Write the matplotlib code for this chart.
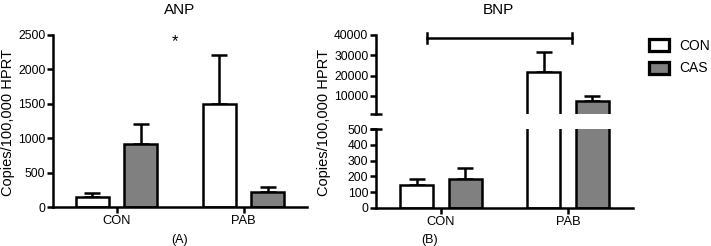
import matplotlib
matplotlib.use("Agg")
import matplotlib.pyplot as plt
from matplotlib.patches import Patch
import numpy as np

plt.rcParams["font.family"] = ["Liberation Sans", "DejaVu Sans"]

# ---- data ----
groups = ["CON", "PAB"]
series = ["CON", "CAS"]
anp_mean = {"CON": [150, 1500], "CAS": [920, 218]}
anp_err = {"CON": [58, 715], "CAS": [290, 68]}
bnp_mean = {"CON": [147, 21900], "CAS": [184, 7600]}
bnp_err = {"CON": [39, 9600], "CAS": [70, 2500]}

colors = {"CON": "white", "CAS": "#808080"}
offset = {"CON": -0.19, "CAS": 0.19}
WIDTH = 0.26
LW = 1.8

fig = plt.figure(figsize=(7.11, 2.46), dpi=100)
W, H = 711, 246


def ax_px(l, t, r, b):
    return fig.add_axes([l / W, 1 - b / H, (r - l) / W, (b - t) / H])


def style(ax, bottom=True):
    for s in ["top", "right"]:
        ax.spines[s].set_visible(False)
    ax.spines["left"].set_linewidth(LW)
    ax.spines["bottom"].set_linewidth(LW)
    if not bottom:
        ax.spines["bottom"].set_visible(False)
        ax.tick_params(axis="x", length=0, labelbottom=False)
    ax.tick_params(axis="both", width=LW, length=4, pad=1.5)
    ax.tick_params(axis="y", labelsize=8.7)
    ax.tick_params(axis="x", labelsize=9.3)


def draw_bars(ax, mean, err, ymin=0):
    x = np.arange(len(groups))
    for s in series:
        m = np.array(mean[s], dtype=float)
        e = np.array(err[s], dtype=float)
        keep = m > ymin  # bars fully below a broken segment are not drawn there
        ax.bar(x[keep] + offset[s], m[keep], WIDTH, color=colors[s],
               edgecolor="black", linewidth=LW, zorder=2)
        ax.errorbar(x[keep] + offset[s], m[keep],
                    yerr=[np.zeros(keep.sum()), e[keep]],
                    fmt="none", ecolor="black", elinewidth=LW, capsize=6,
                    capthick=LW, zorder=1)


# ---- panel A: ANP ----
axA = ax_px(53, 35, 307, 207)
draw_bars(axA, anp_mean, anp_err)
axA.set_xlim(-0.5, 1.5)
axA.set_ylim(0, 2500)
axA.set_yticks([0, 500, 1000, 1500, 2000, 2500])
axA.set_xticks([0, 1])
axA.set_xticklabels(groups)
style(axA)
axA.text(0.46, 2400, "*", ha="center", va="center", fontsize=12)

# ---- panel B: BNP (broken axis) ----
axBt = ax_px(376, 35, 633, 114)
axBb = ax_px(376, 129, 633, 208)
draw_bars(axBt, bnp_mean, bnp_err, ymin=1000)
draw_bars(axBb, bnp_mean, bnp_err)
for ax in (axBt, axBb):
    ax.set_xlim(-0.51, 1.51)
axBt.set_ylim(1000, 40000)
axBt.set_yticks([10000, 20000, 30000, 40000])
axBb.set_ylim(0, 500)
axBb.set_yticks([0, 100, 200, 300, 400, 500])
axBb.set_xticks([0, 1])
axBb.set_xticklabels(groups)
style(axBt, bottom=False)
style(axBb)
axBt.set_xticks([])
# caps at the break
axBt.plot([-0.51], [1000], marker="_", ms=9, mew=LW, color="black", clip_on=False)
axBb.plot([-0.51], [500], marker="_", ms=9, mew=LW, color="black", clip_on=False)

# significance bracket
axBt.plot([-0.11, 1.03], [38500, 38500], color="black", lw=LW, clip_on=False)
for xb in (-0.11, 1.03):
    axBt.plot([xb, xb], [36200, 40800], color="black", lw=LW, clip_on=False)

# legend
handles = [Patch(facecolor=colors[s], edgecolor="black", linewidth=LW * 1.3, label=s)
           for s in series]
fig.legend(handles=handles, loc="upper left", bbox_to_anchor=(649 / W, 1 - 39 / H),
           frameon=False, fontsize=10, handlelength=1.45, handleheight=0.95,
           handletextpad=0.75, labelspacing=0.6, borderaxespad=0, borderpad=0)

# titles and labels
fig.text(180 / W, 1 - 10 / H, "ANP", ha="center", va="center", fontsize=11)
fig.text(498 / W, 1 - 10 / H, "BNP", ha="center", va="center", fontsize=11)
fig.text(180 / W, 1 - 240 / H, "(A)", ha="center", va="center", fontsize=9)
fig.text(430 / W, 1 - 240 / H, "(B)", ha="center", va="center", fontsize=9)
fig.text(8 / W, 1 - 122 / H, "Copies/100,000 HPRT", rotation=90,
         ha="center", va="center", fontsize=10.5)
fig.text(324 / W, 1 - 122 / H, "Copies/100,000 HPRT", rotation=90,
         ha="center", va="center", fontsize=10.5)

fig.savefig("out.png", dpi=100)
